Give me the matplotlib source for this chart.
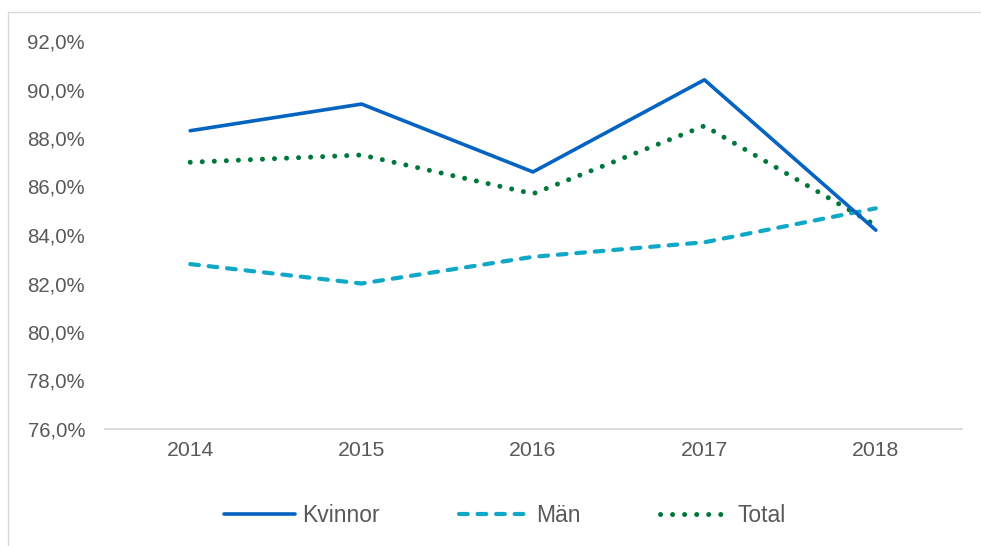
import matplotlib.pyplot as plt
from matplotlib.patches import Rectangle

plt.rcParams['font.family'] = ['Liberation Sans', 'DejaVu Sans']

YEARS = ["2014", "2015", "2016", "2017", "2018"]
KVINNOR = [88.3, 89.4, 86.6, 90.4, 84.2]
MAN = [82.8, 82.0, 83.1, 83.7, 85.1]
TOTAL = [87.0, 87.3, 85.7, 88.5, 84.4]
Y_TICKS = [76, 78, 80, 82, 84, 86, 88, 90, 92]

W, H = 981, 546
TEXT = "#595959"

fig = plt.figure(figsize=(W / 100, H / 100), dpi=100)
fig.patch.set_facecolor("white")

# light frame around the chart area (right/bottom run off the image)
fig.patches.append(Rectangle((8 / W, -0.05), 1.1, 1 - 12 / H + 0.05,
                             transform=fig.transFigure, fill=False,
                             edgecolor="#d9d9d9", linewidth=1.0))

ax = fig.add_axes([104.5 / W, 1 - 429 / H, (961.5 - 104.5) / W, (429 - 41) / H])
x = range(len(YEARS))

ax.plot(x, KVINNOR, color="#0563C1", lw=2.6, solid_capstyle="round",
        solid_joinstyle="round", label="Kvinnor", zorder=3)
ax.plot(x, MAN, color="#0FA8C6", lw=3.0, dashes=(2.1, 2.35),
        dash_capstyle="round", label="Män", zorder=2)
ax.plot(x, TOTAL, color="#00783C", lw=3.6, dashes=(0.01, 2.4),
        dash_capstyle="round", label="Total", zorder=2)

ax.set_xlim(-0.5, len(YEARS) - 0.5)
ax.set_ylim(76, 92)
ax.set_xticks(list(x))
ax.set_xticklabels(YEARS)
ax.set_yticks(Y_TICKS)
ax.set_yticklabels([f"{v:.1f}%".replace(".", ",") for v in Y_TICKS])
ax.tick_params(axis="both", length=0, labelsize=14.7, colors=TEXT)
ax.tick_params(axis="x", pad=9, labelsize=15.3)
ax.tick_params(axis="y", pad=14)

for s in ["top", "right", "left"]:
    ax.spines[s].set_visible(False)
ax.spines["bottom"].set_color("#d9d9d9")
ax.spines["bottom"].set_linewidth(1.3)

leg = fig.legend(loc="center left", bbox_to_anchor=(224 / W, 1 - 516 / H),
                 ncol=3, frameon=False, fontsize=16.5, handlelength=3.1,
                 handletextpad=0.3, columnspacing=3.45, borderpad=0,
                 borderaxespad=0)
for t in leg.get_texts():
    t.set_color(TEXT)

fig.savefig("out.png", dpi=100, facecolor="white")
